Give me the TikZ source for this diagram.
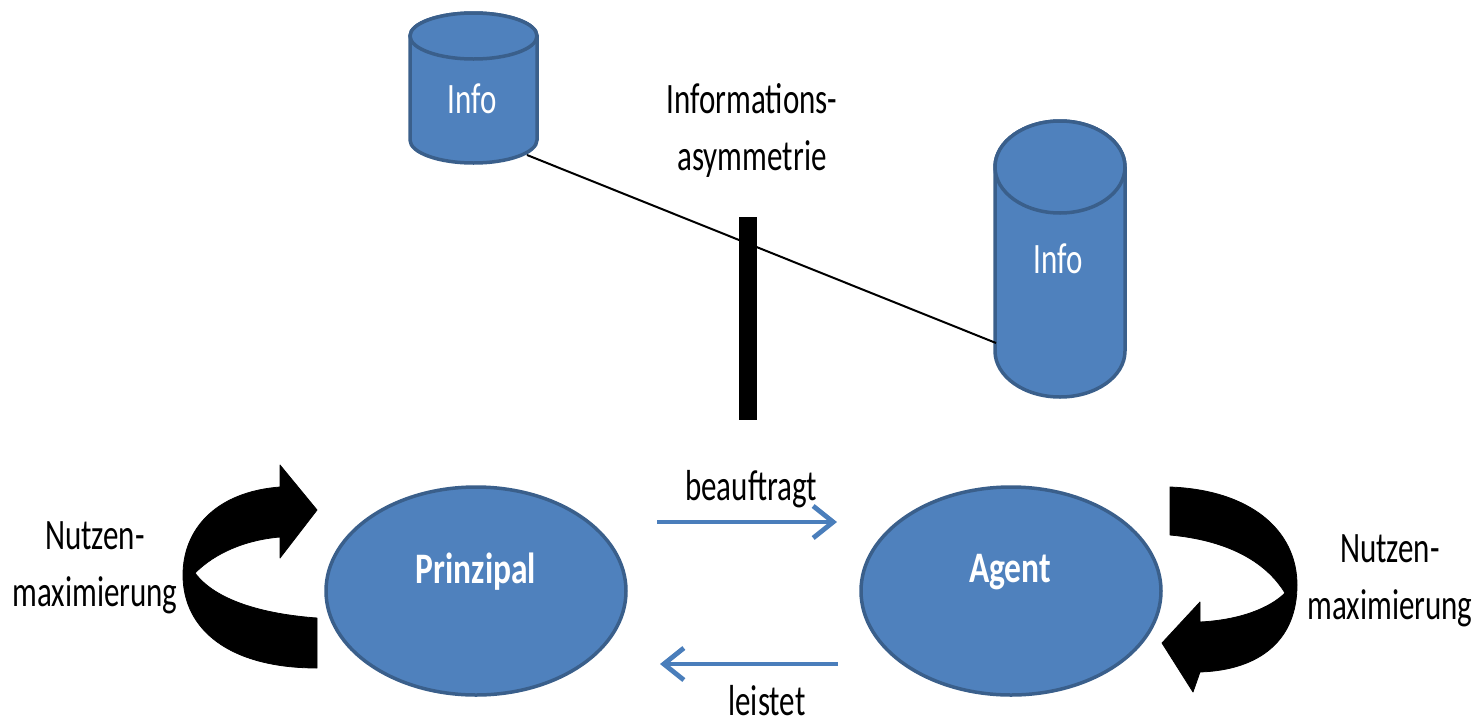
\documentclass[tikz,border=0pt]{standalone}
\usepackage{fontspec}
\setmainfont{Carlito}
\usetikzlibrary{arrows.meta,shapes.geometric}
\definecolor{shfill}{HTML}{4F81BD}
\definecolor{shline}{HTML}{3A5F8B}
\definecolor{arblue}{HTML}{4A7EBB}
\newcommand{\stretchtxt}[1]{\scalebox{1}[1.4]{#1}}
\newcommand{\stretchbold}[1]{\scalebox{1}[1.3]{#1}}
\tikzset{
  txt/.style={inner sep=0pt, anchor=base, font=\fontsize{31}{41.4}\selectfont},
  wtxt/.style={txt, text=white},
  btxt/.style={wtxt, font=\fontsize{33.5}{40}\selectfont\bfseries},
  oval/.style={ellipse, draw=shline, fill=shfill, line width=3.5pt, inner sep=0pt},
  cyl/.style={draw=shline, fill=shfill, line width=3.5pt},
  flow/.style={draw=arblue, line width=4.8pt, -{Straight Barb[length=20pt,width=32pt]}},
  bigarrow/.style={fill=black, draw=black, line width=0.8pt, line join=round},
}
\begin{document}
\begin{tikzpicture}[x=1pt,y=-1pt]
\useasboundingbox (0,0) rectangle (1481,726);

% cylinder 1
\path[cyl] (410,36) -- (410,140) arc[start angle=180,end angle=0,x radius=63.5,y radius=23]
  -- (537,36) arc[start angle=360,end angle=180,x radius=63.5,y radius=23] -- cycle;
\draw[cyl] (473.5,36) ellipse [x radius=63.5, y radius=23];
\node[wtxt] (info1) at (472,113) {\stretchtxt{Info}};

% cylinder 2
\path[cyl] (995,167) -- (995,351) arc[start angle=180,end angle=0,x radius=65,y radius=46]
  -- (1125,167) arc[start angle=360,end angle=180,x radius=65,y radius=46] -- cycle;
\draw[cyl] (1060,167) ellipse [x radius=65, y radius=46];
\node[wtxt] (info2) at (1058,273) {\stretchtxt{Info}};

% connecting line
\coordinate (c1) at (527,155);
\coordinate (c2) at (996,343);
\draw[line width=2pt] (c1) -- (c2);

% barrier
\fill[black] (739,217) rectangle (757,420);
\node[txt] (asym) at (752,113) {\stretchtxt{\begin{tabular}[t]{@{}c@{}}Informations-\\asymmetrie\end{tabular}}};

% principal and agent
\node[oval, minimum width=300pt, minimum height=208pt] (prin) at (476,591) {};
\node[btxt] (prinT) at (476,583) {\stretchbold{Prinzipal}};
\node[oval, minimum width=300pt, minimum height=208pt] (agent) at (1011,591) {};
\node[btxt] (agentT) at (1010,582) {\stretchbold{Agent}};

% flows
\coordinate (b1) at (657,522);
\coordinate (b2) at (837,522);
\coordinate (l1) at (838,664);
\coordinate (l2) at (660,664);
\draw[flow] (b1) -- (b2);
\draw[flow] (l1) -- (l2);
\node[txt] (beauf) at (751,500) {\stretchtxt{beauftragt}};
\node[txt] (leist) at (767,715) {\stretchtxt{leistet}};

% left curved arrow
\path[bigarrow] (317,668) -- (317,618) .. controls (262,614) and (215,600) .. (195,573)
  .. controls (215,553) and (245,540) .. (280,537) -- (280,558) -- (317,510) -- (280,465)
  -- (280,487) .. controls (215,492) and (183,530) .. (183,575)
  .. controls (183,630) and (230,668) .. (317,668) -- cycle;
\node[txt] (nl) at (95,549) {\stretchtxt{\begin{tabular}[t]{@{}c@{}}Nutzen-\\maximierung\end{tabular}}};

% right curved arrow
\path[bigarrow] (1170,487) .. controls (1250,490) and (1297,530) .. (1297,585)
  .. controls (1297,640) and (1260,670) .. (1200,672) -- (1193,692) -- (1162,643)
  -- (1200,602) -- (1200,622) .. controls (1240,620) and (1270,608) .. (1285,593)
  .. controls (1265,560) and (1225,540) .. (1170,535) -- cycle;
\node[txt] (nr) at (1390,562) {\stretchtxt{\begin{tabular}[t]{@{}c@{}}Nutzen-\\maximierung\end{tabular}}};
\end{tikzpicture}
\end{document}
